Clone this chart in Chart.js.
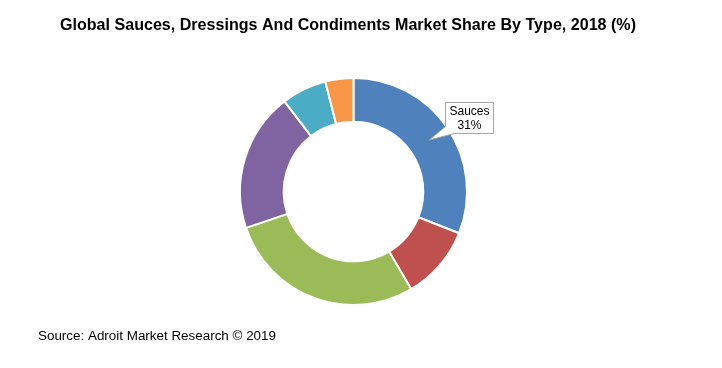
<!DOCTYPE html>
<html><head><meta charset="utf-8">
<script src="https://cdn.jsdelivr.net/npm/chart.js@4"></script>
<style>html,body{margin:0;padding:0;background:#fff;}#wrap{width:722px;height:368px;position:relative;}</style>
</head><body><div id="wrap"><canvas id="c" width="722" height="368"></canvas></div>
<script>
const categories = ["Sauces", "Dressings", "Condiments", "Pickles", "Dips", "Others"];
const shares = [31, 10.5, 28.3, 19.8, 6.4, 4.0];
const colors = ["#4F81BD", "#C0504D", "#9BBB59", "#8064A2", "#4BACC6", "#F79646"];
const titleText = "Global Sauces, Dressings And Condiments Market Share By Type, 2018 (%)";
const sourceText = "Source: Adroit Market Research \u00A9 2019";

function fitText(ctx, text, x, y, targetW, font) {
  ctx.save();
  ctx.font = font;
  const w = ctx.measureText(text).width;
  const s = targetW / w;
  ctx.translate(x, y);
  ctx.scale(s, 1);
  ctx.fillText(text, 0, 0);
  ctx.restore();
}

const decor = {
  id: 'decor',
  afterDraw(chart) {
    const ctx = chart.ctx;
    ctx.save();
    ctx.fillStyle = '#000';
    ctx.textBaseline = 'alphabetic';
    ctx.textAlign = 'left';
    fitText(ctx, titleText, 60, 30, 576, 'bold 17px "Liberation Sans", Arial, sans-serif');
    ctx.fillStyle = '#000';
    fitText(ctx, sourceText, 38, 340, 238, '12px "Liberation Sans", Arial, sans-serif');

    // callout for Sauces
    const arc = chart.getDatasetMeta(0).data[0];
    const mid = (arc.startAngle + arc.endAngle) / 2;
    const rr = (arc.innerRadius + arc.outerRadius) / 2;
    const tx = arc.x + Math.cos(mid) * rr;
    const ty = arc.y + Math.sin(mid) * rr;
    const L = Math.round(tx + 16) + 0.5, T = Math.round(ty - 38) + 0.5, W = 48, H = 31;
    const R = L + W, B = T + H;
    ctx.beginPath();
    ctx.moveTo(L, T);
    ctx.lineTo(R, T);
    ctx.lineTo(R, B);
    ctx.lineTo(L + 9, B);
    ctx.lineTo(tx, ty);
    ctx.lineTo(L, B - 7);
    ctx.closePath();
    ctx.fillStyle = '#fff';
    ctx.fill();
    ctx.strokeStyle = '#A6A6A6';
    ctx.lineWidth = 1;
    ctx.stroke();
    ctx.fillStyle = '#000';
    ctx.textAlign = 'center';
    ctx.textBaseline = 'middle';
    ctx.font = '12px "Liberation Sans", Arial, sans-serif';
    ctx.fillText(categories[0], L + W / 2, T + 9);
    ctx.fillText(Math.round(shares[0]) + '%', L + W / 2, T + 23);
    ctx.restore();
  }
};

new Chart(document.getElementById('c'), {
  type: 'doughnut',
  data: {
    labels: categories,
    datasets: [{
      data: shares,
      backgroundColor: colors,
      borderColor: '#fff',
      borderWidth: 2,
      hoverOffset: 0
    }]
  },
  options: {
    responsive: false,
    animation: false,
    cutout: '61.5%',
    layout: { padding: { left: 239, right: 254, top: 77, bottom: 62 } },
    plugins: { legend: { display: false }, tooltip: { enabled: false }, title: { display: false } },
    events: []
  },
  plugins: [decor]
});
</script></body></html>
